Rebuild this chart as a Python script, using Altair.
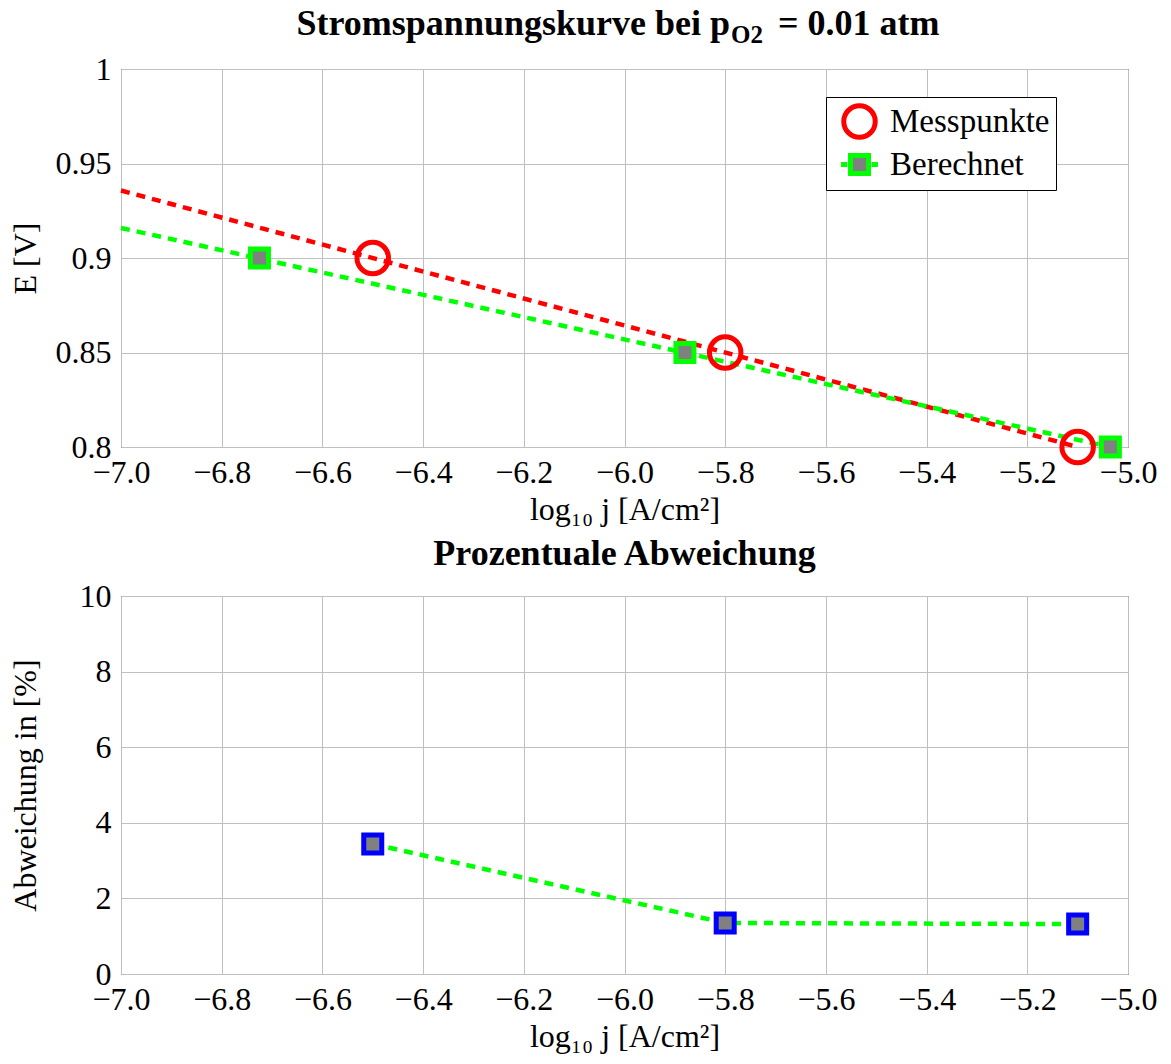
import altair as alt
import pandas as pd

# ---------------- data ----------------
x_ticks = [-7.0, -6.8, -6.6, -6.4, -6.2, -6.0, -5.8, -5.6, -5.4, -5.2, -5.0]
e_ticks = [0.8, 0.85, 0.9, 0.95, 1.0]
dev_ticks = [0, 2, 4, 6, 8, 10]

series_names = ["Messpunkte", "Berechnet"]

meas_x = [-6.5, -5.8, -5.1]
meas_e = [0.90, 0.85, 0.80]
calc_x = [-6.725, -5.88, -5.035]
calc_e = [0.90, 0.85, 0.80]

meas_fit_x = [-7.0, -5.1]
meas_fit_e = [0.9357, 0.80]
calc_fit_x = [-7.0, -5.035]
calc_fit_e = [0.9159, 0.80]

dev_x = [-6.5, -5.8, -5.1]
dev_pct = [3.44, 1.35, 1.32]

FONT = "Liberation Serif"
W, H = 1007, 378

points_df = pd.DataFrame({
    "x": meas_x + calc_x,
    "y": meas_e + calc_e,
    "series": [series_names[0]] * len(meas_x) + [series_names[1]] * len(calc_x),
})
meas_df = pd.DataFrame({"x": meas_x, "y": meas_e})
calc_df = pd.DataFrame({"x": calc_x, "y": calc_e})
meas_fit_df = pd.DataFrame({"x": meas_fit_x, "y": meas_fit_e})
calc_fit_df = pd.DataFrame({"x": calc_fit_x, "y": calc_fit_e})
dev_df = pd.DataFrame({"x": dev_x, "y": dev_pct})

X_TITLE = "log\u2081\u2080 j [A/cm\u00b2]"
FS = 32


def x_enc():
    return alt.X("x:Q", scale=alt.Scale(domain=[-7.0, -5.0], nice=False, zero=False),
                 axis=alt.Axis(values=x_ticks, format=".1f", title=X_TITLE,
                               labelFlush=False, labelOverlap=False))


def y_top():
    return alt.Y("y:Q", scale=alt.Scale(domain=[0.8, 1.0], nice=False, zero=False),
                 axis=alt.Axis(values=e_ticks, format=".2~f", title="E [V]",
                               titleX=-96, titleY=H / 2, titleBaseline="middle",
                               labelOverlap=False))


def y_bot():
    return alt.Y("y:Q", scale=alt.Scale(domain=[0, 10], nice=False),
                 axis=alt.Axis(values=dev_ticks, format="d", title="Abweichung in [%]",
                               titleX=-96, titleY=H / 2, titleBaseline="middle",
                               labelOverlap=False))


DASH = [9, 7]
LW = 4.5
RED, GREEN, GRAY, BLUE = "#ff0000", "#00ff00", "#808080", "#0000ff"
CIRCLE_SIZE, SQUARE_SIZE = 992, 324
LEGEND_SQUARE = "M-2.05,0H-1.35M1.35,0H2.05M-1,-1H1V1H-1Z"

meas_line = alt.Chart(meas_fit_df).mark_line(color=RED, strokeDash=DASH, strokeWidth=LW).encode(
    x=x_enc(), y=y_top())
calc_line = alt.Chart(calc_fit_df).mark_line(color=GREEN, strokeDash=DASH, strokeWidth=LW).encode(
    x=x_enc(), y=y_top())

meas_pts = alt.Chart(meas_df).mark_point(shape="circle", filled=False, stroke=RED, strokeWidth=5,
                                         size=CIRCLE_SIZE, opacity=1).encode(x=x_enc(), y=y_top())
calc_pts = alt.Chart(calc_df).mark_point(shape="square", filled=True, fill=GRAY, stroke=GREEN,
                                         strokeWidth=5, size=SQUARE_SIZE, opacity=1).encode(x=x_enc(), y=y_top())

legend = alt.Legend(
    title=None, orient="none", legendX=705, legendY=28,
    padding=6, strokeColor="black", fillColor="white", cornerRadius=0,
    labelFont=FONT, labelFontSize=33, labelColor="black", labelOffset=12,
    symbolOffset=9, symbolStrokeWidth=5, rowPadding=-8, symbolOpacity=1,
)

legend_layer = alt.Chart(points_df).transform_filter("false").mark_point(
    filled=True, strokeWidth=5, opacity=1).encode(
    x=x_enc(), y=y_top(),
    stroke=alt.Stroke("series:N", scale=alt.Scale(domain=series_names, range=[RED, GREEN]),
                      legend=legend),
    fill=alt.Fill("series:N", scale=alt.Scale(domain=series_names, range=["transparent", GRAY])),
    shape=alt.Shape("series:N", scale=alt.Scale(domain=series_names, range=["circle", LEGEND_SQUARE])),
    size=alt.Size("series:N", scale=alt.Scale(domain=series_names, range=[CIRCLE_SIZE, SQUARE_SIZE])),
)

TS = 36
title1 = alt.Chart(alt.Data(values=[{}])).mark_text(
    text="Stromspannungskurve bei p", font=FONT, fontSize=TS, fontWeight="bold",
    align="right", baseline="alphabetic").encode(x=alt.value(609), y=alt.value(-34))
title2 = alt.Chart(alt.Data(values=[{}])).mark_text(
    text="O2", font=FONT, fontSize=25, fontWeight="bold",
    align="left", baseline="alphabetic").encode(x=alt.value(610), y=alt.value(-26))
title3 = alt.Chart(alt.Data(values=[{}])).mark_text(
    text="= 0.01 atm", font=FONT, fontSize=TS, fontWeight="bold",
    align="left", baseline="alphabetic").encode(x=alt.value(657), y=alt.value(-34))

top = alt.layer(meas_line, calc_line, meas_pts, calc_pts, legend_layer,
                title1, title2, title3).properties(width=W, height=H)

dev_line = alt.Chart(dev_df).mark_line(color=GREEN, strokeDash=DASH, strokeWidth=LW).encode(
    x=x_enc(), y=y_bot())
dev_pts = alt.Chart(dev_df).mark_point(shape="square", filled=True, fill=GRAY, stroke=BLUE,
                                       strokeWidth=5, size=SQUARE_SIZE, opacity=1).encode(x=x_enc(), y=y_bot())
bottom_title = alt.Chart(alt.Data(values=[{}])).mark_text(
    text="Prozentuale Abweichung", font=FONT, fontSize=TS, fontWeight="bold",
    align="center", baseline="alphabetic").encode(x=alt.value(W / 2), y=alt.value(-31))

bottom = alt.layer(dev_line, dev_pts, bottom_title).properties(width=W, height=H)

chart = alt.vconcat(top, bottom, spacing=9).properties(
    background="white", padding={"left": 8, "top": 5, "right": 5, "bottom": 5}
).configure_view(stroke="black", strokeWidth=1).configure_axis(
    domain=False, ticks=False, grid=True, gridColor="#c0c0c0", gridWidth=1,
    labelFont=FONT, labelFontSize=FS, labelColor="black", labelPadding=10,
    titleFont=FONT, titleFontSize=FS, titleFontWeight="normal", titleColor="black", titlePadding=6,
)

chart.save("out.html", embed_options={"renderer": "svg", "actions": False})
